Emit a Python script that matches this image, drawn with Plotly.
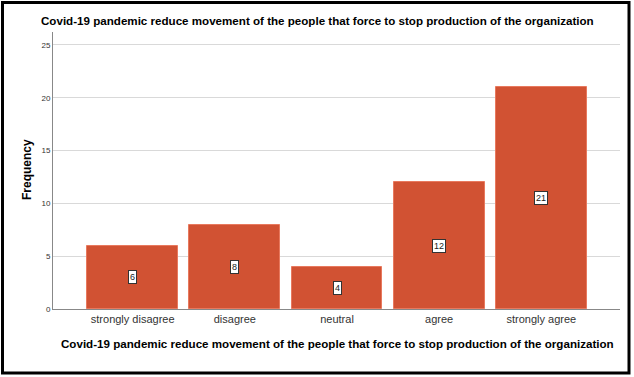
import plotly.graph_objects as go

categories = ["strongly disagree", "disagree", "neutral", "agree", "strongly agree"]
frequency = [6, 8, 4, 12, 21]
y_ticks = [0, 5, 10, 15, 20, 25]
title_text = "Covid-19 pandemic reduce movement of the people that force to stop production of the organization"

W, H = 634, 377
L, R, T, B = 53, 14, 32, 68
pw, ph = W - L - R, H - T - B

def px_x(p):
    return (p - L) / pw

def px_y(p):
    return (H - B - p) / ph

bar_color = "#D15233"
FONT = "Liberation Sans, Arial"

fig = go.Figure()
fig.add_trace(go.Bar(
    x=list(range(len(categories))),
    y=frequency,
    width=0.89,
    marker=dict(color=bar_color, line=dict(color="#E8795E", width=1)),
    hoverinfo="skip",
))

annotations = []
for i, v in enumerate(frequency):
    annotations.append(dict(
        x=i, y=v / 2, xref="x", yref="y", text=str(v), showarrow=False,
        font=dict(family=FONT, size=9, color="#222"),
        bgcolor="white", bordercolor="#333", borderwidth=1, borderpad=1,
    ))

annotations.append(dict(
    x=px_x(317), y=px_y(20), xref="paper", yref="paper", text="<b>" + title_text + "</b>",
    showarrow=False, xanchor="center", yanchor="middle",
    font=dict(family=FONT, size=11.6, color="black"),
))
annotations.append(dict(
    x=px_x(337), y=px_y(343), xref="paper", yref="paper", text="<b>" + title_text + "</b>",
    showarrow=False, xanchor="center", yanchor="middle",
    font=dict(family=FONT, size=11.6, color="black"),
))
annotations.append(dict(
    x=px_x(27), y=px_y(170), xref="paper", yref="paper", text="<b>Frequency</b>",
    showarrow=False, xanchor="center", yanchor="middle", textangle=-90,
    font=dict(family=FONT, size=12, color="black"),
))

shapes = [dict(
    type="rect", xref="paper", yref="paper",
    x0=px_x(2.5), x1=px_x(629), y0=px_y(2.5), y1=px_y(373),
    line=dict(color="black", width=3), fillcolor="rgba(0,0,0,0)", layer="above",
)]

fig.update_layout(
    width=W, height=H,
    margin=dict(l=L, r=R, t=T, b=B, pad=0),
    paper_bgcolor="white", plot_bgcolor="white",
    showlegend=False,
    annotations=annotations,
    shapes=shapes,
    xaxis=dict(
        range=[-0.78, 4.77],
        tickmode="array", tickvals=list(range(len(categories))), ticktext=categories,
        showgrid=False, zeroline=False, showline=True, linecolor="#888", linewidth=1,
        ticks="", tickfont=dict(family=FONT, size=11, color="#333"),
    ),
    yaxis=dict(
        range=[0, 26.23],
        tickmode="array", tickvals=y_ticks,
        showgrid=True, gridcolor="#D9D9D9", gridwidth=1,
        zeroline=False, showline=True, linecolor="#888", linewidth=1,
        ticks="", ticklen=0, tickfont=dict(family=FONT, size=8, color="#333"),
    ),
    bargap=0,
)

fig.write_html(
    "out.html",
    config={"displayModeBar": False},
    post_script="document.body.style.margin='0';document.body.style.padding='0';document.body.style.overflow='hidden';",
)
